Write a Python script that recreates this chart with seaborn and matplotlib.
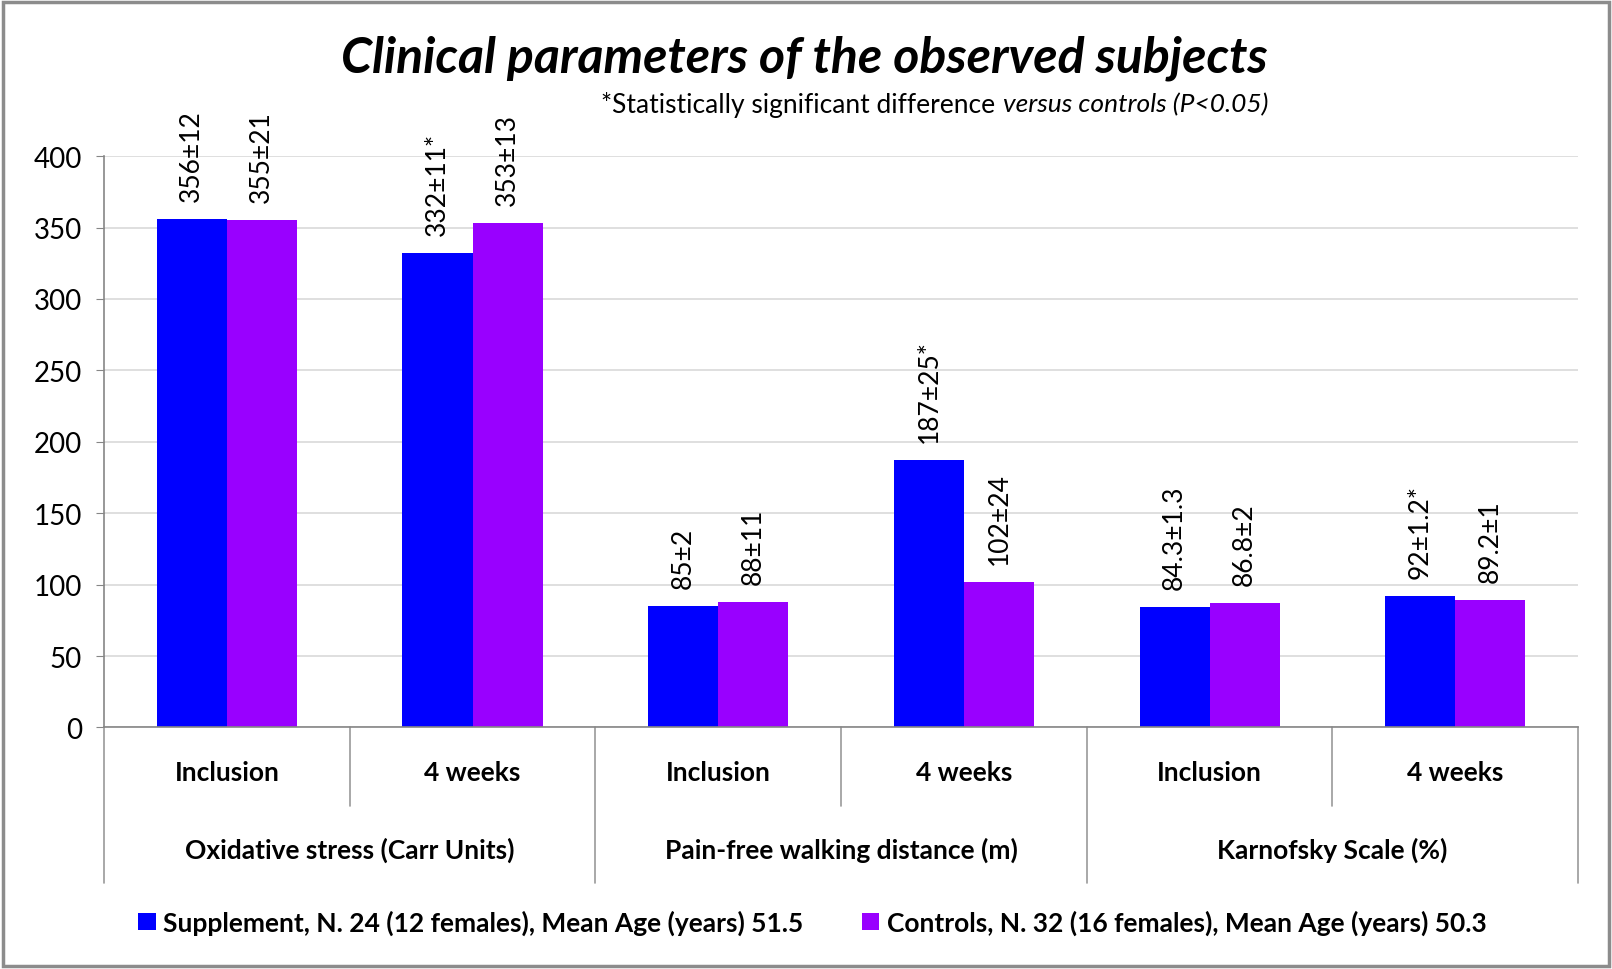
import matplotlib
matplotlib.use("Agg")
import matplotlib.pyplot as plt
import matplotlib.patches as patches
from matplotlib.lines import Line2D
import seaborn as sns
import pandas as pd

# data
groups = ["Oxidative stress (Carr Units)", "Pain-free walking distance (m)", "Karnofsky Scale (%)"]
times = ["Inclusion", "4 weeks"]
series = ["Supplement, N. 24 (12 females), Mean Age (years) 51.5",
          "Controls, N. 32 (16 females), Mean Age (years) 50.3"]
supplement = [356, 332, 85, 187, 84.3, 92]
controls = [355, 353, 88, 102, 86.8, 89.2]
supplement_txt = ["356±12", "332±11*", "85±2", "187±25*", "84.3±1.3", "92±1.2*"]
controls_txt = ["355±21", "353±13", "88±11", "102±24", "86.8±2", "89.2±1"]
y_ticks = [0, 50, 100, 150, 200, 250, 300, 350, 400]

colors = ["#0000FF", "#9900FF"]

slots = [f"{g}|{t}" for g in groups for t in times]
df = pd.DataFrame({
    "slot": slots * 2,
    "value": supplement + controls,
    "series": [series[0]] * 6 + [series[1]] * 6,
    "txt": supplement_txt + controls_txt,
})

sns.set_style("white")
plt.rcParams['font.family'] = ['Lato', 'DejaVu Sans']
plt.rcParams['text.color'] = 'black'
plt.rcParams['ytick.color'] = 'black'

fig = plt.figure(figsize=(16.12, 9.7), dpi=100)
ax = fig.add_axes([0.0645, 0.249, 0.9145, 0.589])

sns.barplot(data=df, x="slot", y="value", hue="series", order=slots,
            hue_order=series, palette=colors, width=0.57, saturation=1,
            ax=ax, legend=False, linewidth=0)

# value labels above bars
for cont, s in zip(ax.containers, series):
    txts = df.loc[df["series"] == s, "txt"].tolist()
    for bar, t in zip(cont, txts):
        ax.annotate(t, (bar.get_x() + bar.get_width() / 2, bar.get_height()),
                    xytext=(0, 13), textcoords="offset points",
                    rotation=90, ha="center", va="bottom", fontsize=19)

ax.set_xlim(-0.5, 5.5)
ax.set_ylim(0, 400)
ax.set_yticks(y_ticks)
ax.tick_params(axis="y", labelsize=20, length=6, color="#868686", labelcolor="black",
               pad=10, left=True)
ax.set_xticks([])
ax.set_xlabel("")
ax.set_ylabel("")
ax.yaxis.grid(True, color="#D9D9D9", linewidth=1.2)
ax.set_axisbelow(True)
for side in ["top", "right"]:
    ax.spines[side].set_visible(False)
ax.spines["left"].set_color("#868686")
ax.spines["bottom"].set_color("#868686")
ax.spines["left"].set_linewidth(1.2)
ax.spines["bottom"].set_linewidth(1.2)

# hierarchical category axis
tr = ax.get_xaxis_transform()
for i, s in enumerate(slots):
    ax.text(i, -0.078, s.split("|")[1], transform=tr, ha="center", va="center",
            fontsize=19, fontweight="bold")
for j, g in enumerate(groups):
    ax.text(2 * j + 0.5, -0.214, g, transform=tr, ha="center", va="center",
            fontsize=19, fontweight="bold")
for k in range(7):
    xb = k - 0.5
    y_end = -0.272 if k % 2 == 0 else -0.137
    ax.add_line(Line2D([xb, xb], [0, y_end], transform=tr, color="#9A9A9A",
                       linewidth=1.2, clip_on=False))

# legend
handles = [patches.Patch(facecolor=c, edgecolor="none") for c in colors]
fig.legend(handles, series, loc="center", bbox_to_anchor=(0.504, 0.048), ncol=2,
           frameon=False, prop={"weight": "bold", "size": 19},
           handlelength=0.65, handleheight=0.65, handletextpad=0.3, columnspacing=2.2)

# title and note
fig.text(0.499, 0.94, "Clinical parameters of the observed subjects", ha="center",
         va="center", fontsize=36, fontweight="bold", fontstyle="italic")
note_it = fig.text(0.787, 0.892, "versus controls (P<0.05)", ha="right", va="center",
                   fontsize=19, fontstyle="italic")
fig.canvas.draw()
bb = note_it.get_window_extent().transformed(fig.transFigure.inverted())
fig.text(bb.x0 - 0.005, 0.892, "*Statistically significant difference", ha="right",
         va="center", fontsize=19)

# outer frame
fig.patches.append(patches.Rectangle((0.002, 0.003), 0.996, 0.994, transform=fig.transFigure,
                                     fill=False, edgecolor="#8C8C8C", linewidth=2.5))

plt.savefig("out.png", dpi=100)
